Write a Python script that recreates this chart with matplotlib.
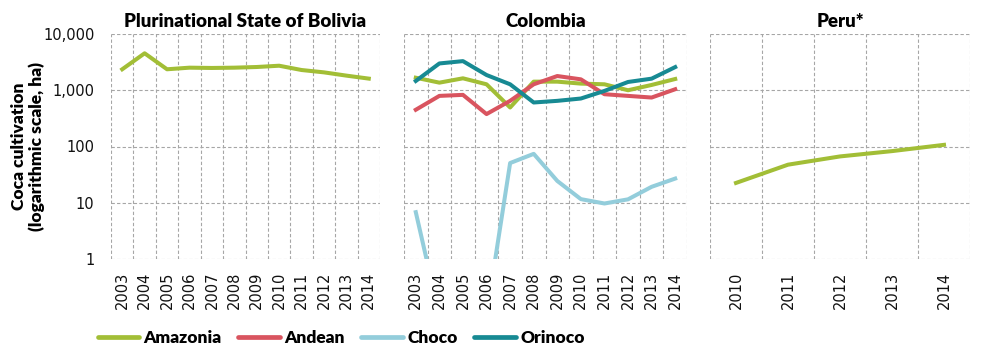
import matplotlib
matplotlib.use("Agg")
import matplotlib.pyplot as plt
from matplotlib.ticker import FixedLocator, FuncFormatter, NullFormatter

# data (ha, log scale)
years_long = ["2003", "2004", "2005", "2006", "2007", "2008",
              "2009", "2010", "2011", "2012", "2013", "2014"]
years_peru = ["2010", "2011", "2012", "2013", "2014"]

bolivia_amazonia = [2360, 4540, 2360, 2520, 2490, 2520, 2590, 2730, 2290, 2080, 1820, 1610]

colombia_amazonia = [1670, 1365, 1630, 1276, 494, 1422, 1422, 1312, 1276, 1000, 1242, 1585]
colombia_andean = [450, 794, 828, 377, 648, 1276, 1790, 1563, 850, 794, 742, 1042]
colombia_choco = [6.8, 0.1, 0.1, 0.1, 50.8, 74, 24.4, 11.6, 9.7, 11.5, 19.2, 26.9]
colombia_orinoco = [1462, 2995, 3295, 1866, 1276, 606, 648, 713, 973, 1403, 1607, 2581]

peru_amazonia = [22.5, 47.5, 66.6, 82.8, 107]

colors = {"Amazonia": "#A2BE36", "Andean": "#D9545F",
          "Choco": "#93CDDB", "Orinoco": "#178A93"}

title_font = "Lato"
lw = 2.9

fig = plt.figure(figsize=(9.81, 3.53), dpi=100)
W, H = 981, 353


def make_ax(x0, x1, y0=34, y1=259):
    return fig.add_axes([x0 / W, 1 - y1 / H, (x1 - x0) / W, (y1 - y0) / H])


ax_b = make_ax(111, 380)
ax_c = make_ax(404, 687)
ax_p = make_ax(710, 970)


def style(ax, labels, title, show_y):
    n = len(labels)
    ax.set_yscale("log")
    ax.set_ylim(1, 10000)
    ax.set_xlim(-0.5, n - 0.5)
    ax.set_xticks(range(n))
    ax.set_xticklabels(labels, rotation=90, fontsize=10.5)
    ax.xaxis.set_minor_locator(FixedLocator([i - 0.5 for i in range(n + 1)]))
    ax.yaxis.set_major_locator(FixedLocator([1, 10, 100, 1000, 10000]))
    ax.yaxis.set_minor_locator(FixedLocator([]))
    ax.yaxis.set_minor_formatter(NullFormatter())
    if show_y:
        ax.yaxis.set_major_formatter(FuncFormatter(lambda v, p: f"{int(v):,}"))
    else:
        ax.yaxis.set_major_formatter(NullFormatter())
    ax.tick_params(which="both", length=0, labelsize=10.5, colors="#111111")
    ax.tick_params(axis="x", pad=9)
    ax.tick_params(axis="y", pad=12)
    ax.grid(True, axis="x", which="minor", color="#A6A6A6", ls=(0, (3, 2)), lw=0.8)
    ax.grid(True, axis="y", which="major", color="#A6A6A6", ls=(0, (3, 2)), lw=0.8)
    ax.grid(False, axis="x", which="major")
    for s in ax.spines.values():
        s.set_visible(False)
    ax.set_title(title, fontsize=13.5, fontweight="heavy", family=title_font, pad=5)


x_long = range(len(years_long))
ax_b.plot(x_long, bolivia_amazonia, color=colors["Amazonia"], lw=lw, label="Amazonia")
style(ax_b, years_long, "Plurinational State of Bolivia", True)
ax_b.set_ylabel("Coca cultivation\n(logarithmic scale, ha)", fontsize=12.5,
                fontweight="heavy", family=title_font, linespacing=1.1)
ax_b.yaxis.set_label_coords((45 - 111) / 269, 0.5)

ax_c.plot(x_long, colombia_amazonia, color=colors["Amazonia"], lw=lw)
ax_c.plot(x_long, colombia_andean, color=colors["Andean"], lw=lw)
ax_c.plot(x_long, colombia_choco, color=colors["Choco"], lw=lw)
ax_c.plot(x_long, colombia_orinoco, color=colors["Orinoco"], lw=lw)
style(ax_c, years_long, "Colombia", False)

ax_p.plot(range(len(years_peru)), peru_amazonia, color=colors["Amazonia"], lw=lw)
style(ax_p, years_peru, "Peru*", False)

handles = [plt.Line2D([], [], color=c, lw=3.4, solid_capstyle="round") for c in colors.values()]
fig.legend(handles, list(colors.keys()), loc="center left", bbox_to_anchor=(82 / W, 1 - 338 / H),
           ncol=4, frameon=False, handlelength=2.4, handletextpad=0.25, columnspacing=0.95,
           prop={"family": title_font, "weight": "heavy", "size": 12.5})

fig.savefig("out.png", dpi=100)
